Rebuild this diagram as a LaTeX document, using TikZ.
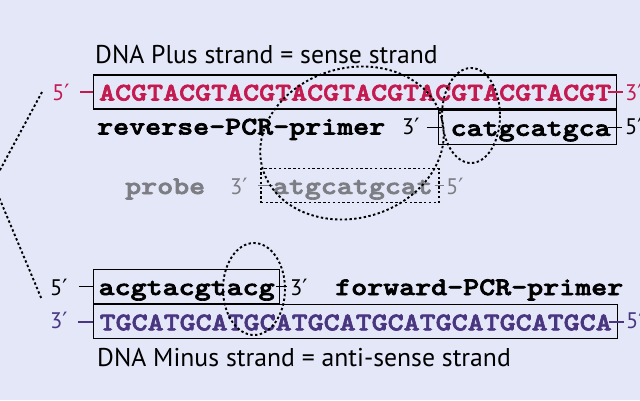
\documentclass[tikz,border=0pt]{standalone}
\usepackage{fontspec}
\setmainfont{PT Sans}
\newfontfamily\primefont{DejaVu Sans}
\newfontfamily\seqfont{lmmonolt10-bold}[Extension=.otf, FakeStretch=1.2, FakeBold=2.6]
\newcommand{\pr}{{\primefont ′}}
\usetikzlibrary{positioning}
\definecolor{bgblue}{RGB}{227,231,248}
\definecolor{plusred}{RGB}{196,26,80}
\definecolor{minuspurple}{RGB}{74,54,128}
\definecolor{probegray}{RGB}{125,126,132}

\begin{document}
\begin{tikzpicture}[
  x=1pt, y=-1pt,
  title/.style={font=\fontsize{25.7}{30}\selectfont, inner sep=0pt, anchor=base west},
  endlabel/.style={font=\fontsize{22.5}{26}\selectfont, inner sep=0pt, anchor=base west},
  seq/.style={font=\seqfont\fontsize{25.4}{30}\selectfont, inner sep=0pt, anchor=base west},
  seqbox/.style={seq, draw=black, line width=1.3pt, anchor=west, text height=17pt, text depth=0pt, minimum height=34pt},
  primerbox/.style={seqbox, text width=166pt, align=right, minimum width=178pt},
  bond/.style={line width=1.4pt},
  dotline/.style={line width=1.9pt, dash pattern=on 2.4pt off 2.4pt}
]
\useasboundingbox (0,0) rectangle (640,400);
\clip (0,0) rectangle (640,400);
\fill[bgblue] (0,0) rectangle (640,400);

% plus strand with reverse primer
\node[title] (plustitle) at (95,63) {DNA Plus strand = sense strand};
\node[seqbox, text=plusred, minimum width=523pt] (plus) at (93,92) {ACGTACGTACGTACGTACGTACGTACGTACGT};
\node[endlabel, text=plusred] (plus5) at (52,100.5) {5\pr};
\node[endlabel, text=plusred] (plus3) at (625,100.5) {3\pr};

\node[primerbox, anchor=north east] (revbox) at (plus.south east) {catgcatgca};
\node[seq] (revname) at (97,134.5) {reverse-PCR-primer};
\node[endlabel] (rev3) at (402,134.5) {3\pr};
\node[endlabel] (rev5) at (625,134.5) {5\pr};

% probe
\node[primerbox, text=probegray, line width=1.7pt, dash pattern=on 2.4pt off 2.4pt] (probe) at (260,185.5) {atgcatgcat};
\node[seq, text=probegray] (probename) at (125,194) {probe};
\node[endlabel, text=probegray] (probe3) at (230,194) {3\pr};
\node[endlabel, text=probegray] (probe5) at (446,194) {5\pr};

% minus strand with forward primer
\node[seqbox, minimum width=186pt] (fwbox) at (93,286.5) {acgtacgtacg};
\node[endlabel] (fw5) at (50,295) {5\pr};
\node[endlabel] (fw3) at (290,295) {3\pr};
\node[seq] (fwname) at (335,295) {forward-PCR-primer};

\node[seqbox, text=minuspurple, minimum width=524pt, anchor=north west] (minus) at (fwbox.south west) {TGCATGCATGCATGCATGCATGCATGCATGCA};
\node[endlabel, text=minuspurple] (minus3) at (50,328.5) {3\pr};
\node[endlabel, text=minuspurple] (minus5) at (626,328.5) {5\pr};
\node[title] (minustitle) at (97,366) {DNA Minus strand = anti-sense strand};

% bonds to the strand ends
\draw[bond, plusred, shorten <=10pt] (plus.west -| plus5.east) -- (plus.west);
\draw[bond, plusred, shorten <=-9pt, shorten >=2pt] (plus.east) -- (plus.east -| plus3.west);
\draw[bond, shorten <=7pt, shorten >=-4pt] (revbox.west -| rev3.east) -- (revbox.west);
\draw[bond, shorten <=-9pt, shorten >=3pt] (revbox.east) -- (revbox.east -| rev5.west);
\draw[bond, probegray, shorten <=10pt, shorten >=-13pt] (probe.west -| probe3.east) -- (probe.west);
\draw[bond, probegray, shorten <=-5pt, shorten >=2pt] (probe.east) -- (probe.east -| probe5.west);
\draw[bond, shorten <=11pt] (fwbox.west -| fw5.east) -- (fwbox.west);
\draw[bond, shorten <=-4pt, shorten >=3pt] (fwbox.east) -- (fwbox.east -| fw3.west);
\draw[bond, minuspurple, shorten <=10pt] (minus.west -| minus3.east) -- (minus.west);
\draw[bond, minuspurple, shorten <=-9pt, shorten >=2pt] (minus.east) -- (minus.east -| minus5.west);

% binding sites
\draw[dotline, rotate around={16:(352,143)}] (352,143) ellipse [x radius=93, y radius=75];
\draw[dotline] (471,115.5) ellipse [x radius=29, y radius=47.5];
\draw[dotline] (254,289) ellipse [x radius=31, y radius=46];

% zoom lines
\coordinate (apex) at (-7,183);
\coordinate (zoomtop) at (42,92);
\coordinate (zoombot) at (42,300);
\draw[dotline] (zoomtop) -- (apex) -- (zoombot);
\end{tikzpicture}
\end{document}
